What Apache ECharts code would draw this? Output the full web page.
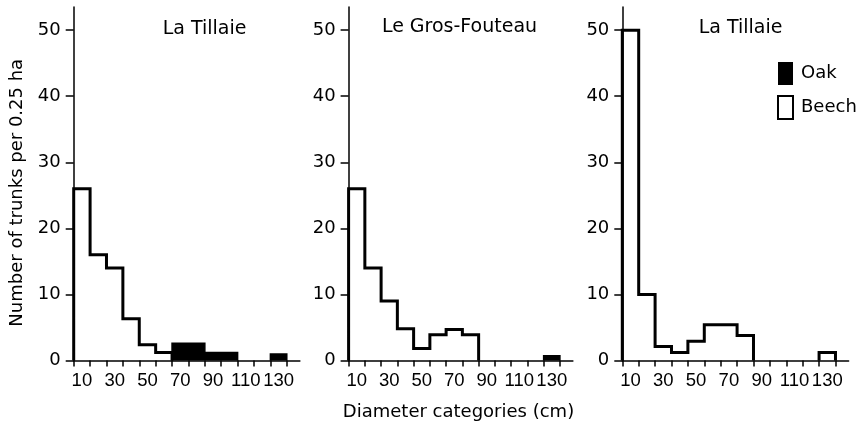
<!DOCTYPE html>
<html><head><meta charset="utf-8">
<script src="https://cdn.jsdelivr.net/npm/echarts@6/dist/echarts.min.js"></script>
<style>html,body{margin:0;padding:0;background:#fff}#c{width:863px;height:429px}</style>
</head><body><div id="c"></div>
<script>
// ---- data ----
const categories = [10,20,30,40,50,60,70,80,90,100,110,120,130]; // upper bound of each diameter class (cm)
const xTickLabels = ['10','30','50','70','90','110','130'];
const yTickValues = [0,10,20,30,40,50];
const panelTitles = ['La Tillaie','Le Gros-Fouteau','La Tillaie'];
const xAxisTitle = 'Diameter categories (cm)';
const yAxisTitle = 'Number of trunks per 0.25 ha';
const beechTillaie1   = [26,16,14,6.3,2.4,1.2,null,null,null,null,null,null,null];
const oakTillaie1     = [null,null,null,null,null,null,2.6,2.6,1.2,1.2,null,null,1.0];
const beechGrosFouteau= [26,14,9,4.8,1.8,3.9,4.7,3.9,null,null,null,null,null];
const oakGrosFouteau  = [null,null,null,null,null,null,null,null,null,null,null,null,0.7];
const beechTillaie2   = [50,10,2.1,1.2,2.9,5.4,5.4,3.8,null,null,null,null,1.2];
const oakTillaie2     = [null,null,null,null,null,null,null,null,null,null,null,null,null];

const panels = [
  {beech: beechTillaie1, oak: oakTillaie1},
  {beech: beechGrosFouteau, oak: oakGrosFouteau},
  {beech: beechTillaie2, oak: oakTillaie2}
];

const binW = categories[1] - categories[0];
function toSteps(values){
  const pts = [];
  values.forEach((v,i)=>{
    if (v == null) return;
    const prev = i > 0 ? values[i-1] : null;
    if (prev == null) pts.push([categories[i]-binW, 0]);
    pts.push([categories[i], v]);
    const next = i < values.length-1 ? values[i+1] : null;
    if (next == null) { pts.push([categories[i], 0]); pts.push(['-', '-']); }
  });
  return pts;
}

const FONT = 'DejaVu Sans';
const TICKFONT = 'Liberation Sans';
const gridBoxes = [
  {left: 73.7, width: 226.2},
  {left: 348.6, width: 224.3},
  {left: 622.3, width: 226.3}
];
const titleCenters = [204.5, 459.5, 740.5];
const titleTops = [20, 18, 19];

const grids = gridBoxes.map(g => ({left: g.left, width: g.width, top: 7, height: 353.5, containLabel: false}));
const xAxes = gridBoxes.map((g,i) => ({
  type: 'value', gridIndex: i, min: 0, max: 138,
  axisLine: {show: true, onZero: false, lineStyle: {color: '#000', width: 1.5}},
  axisTick: {show: true, length: 6, lineStyle: {color: '#000', width: 1.5},
             customValues: [categories[0]-binW].concat(categories)},
  axisLabel: {show: true, color: '#000', fontFamily: TICKFONT, fontSize: 18.5, margin: 11,
              showMinLabel: true, showMaxLabel: true, hideOverlap: false,
              customValues: xTickLabels.map(l => Number(l) - binW/2),
              formatter: v => String(v + binW/2)},
  splitLine: {show: false}
}));
const yAxes = gridBoxes.map((g,i) => {
  const ax = {
    type: 'value', gridIndex: i, min: 0, max: 53.5,
    axisLine: {show: true, onZero: false, lineStyle: {color: '#000', width: 1.5}},
    axisTick: {show: true, length: 8, lineStyle: {color: '#000', width: 1.5}, customValues: yTickValues},
    axisLabel: {show: true, color: '#000', fontFamily: FONT, fontSize: 18, margin: 13,
                showMinLabel: true, showMaxLabel: true, customValues: yTickValues},
    splitLine: {show: false}
  };
  if (i === 0) {
    ax.name = yAxisTitle;
    ax.nameLocation = 'middle';
    ax.nameGap = 47;
    ax.nameTextStyle = {color: '#000', fontFamily: FONT, fontSize: 18, padding: [0, 18, 0, 0]};
  }
  return ax;
});

const series = [];
panels.forEach((p,i) => {
  series.push({
    name: 'Beech', type: 'line', xAxisIndex: i, yAxisIndex: i, step: 'start',
    data: toSteps(p.beech), showSymbol: false, symbol: 'none', clip: false, z: 2,
    connectNulls: false, color: '#000',
    lineStyle: {color: '#000', width: 3, join: 'miter', cap: 'butt'},
    emphasis: {disabled: true}
  });
  series.push({
    name: 'Oak', type: 'line', xAxisIndex: i, yAxisIndex: i, step: 'start',
    data: toSteps(p.oak), showSymbol: false, symbol: 'none', clip: false, z: 3,
    connectNulls: false, color: '#000',
    lineStyle: {color: '#000', width: 1.5, join: 'miter'},
    areaStyle: {color: '#000', opacity: 1},
    emphasis: {disabled: true}
  });
});

const titles = panelTitles.map((t,i) => ({
  text: t, left: titleCenters[i], top: titleTops[i], textAlign: 'center', padding: 0,
  textStyle: {color: '#000', fontFamily: FONT, fontSize: 19, fontWeight: 'normal'}
}));
titles.push({
  text: xAxisTitle, left: 458.5, top: 403, textAlign: 'center', padding: 0,
  textStyle: {color: '#000', fontFamily: FONT, fontSize: 18, fontWeight: 'normal'}
});

const chart = echarts.init(document.getElementById('c'), null, {renderer: 'canvas'});
chart.setOption({
  animation: false,
  backgroundColor: '#fff',
  title: titles,
  legend: {
    orient: 'vertical', left: 777, top: 62, itemWidth: 15, itemHeight: 23, itemGap: 10,
    padding: 0, selectedMode: false,
    textStyle: {color: '#000', fontFamily: FONT, fontSize: 18, padding: [0,0,0,3]},
    data: [
      {name: 'Oak', icon: 'rect', itemStyle: {color: '#000', borderWidth: 0}},
      {name: 'Beech', icon: 'rect', itemStyle: {color: '#fff', borderColor: '#000', borderWidth: 2}}
    ]
  },
  grid: grids,
  xAxis: xAxes,
  yAxis: yAxes,
  series: series
});
</script>
</body></html>
